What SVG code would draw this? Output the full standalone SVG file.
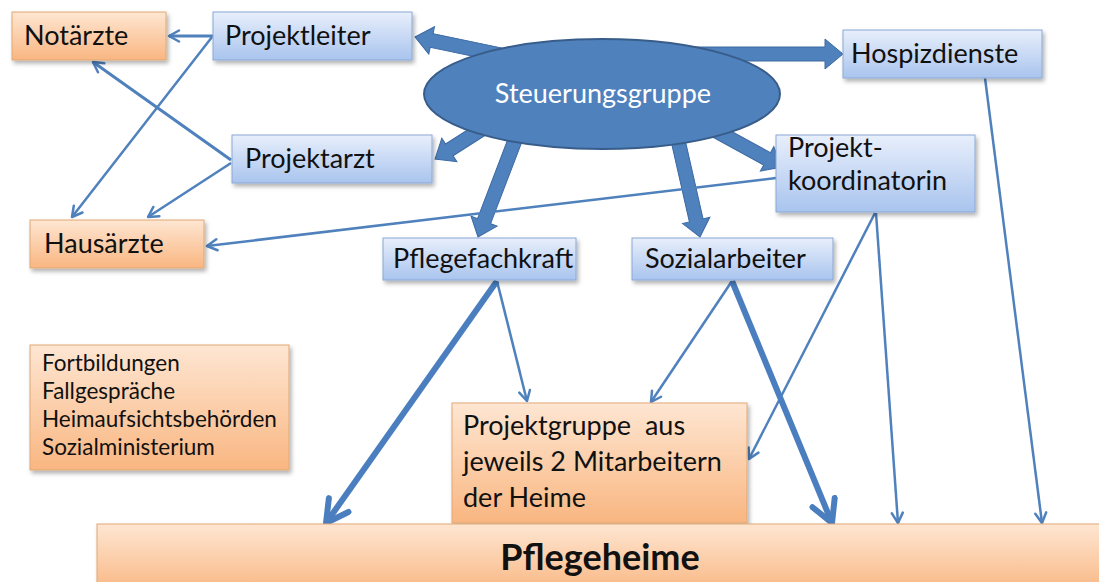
<svg xmlns="http://www.w3.org/2000/svg" width="1099" height="582" viewBox="0 0 1099 582">
  <style>
    .lbl { font-family: Lato, "Liberation Sans", sans-serif; font-size: 27px; fill: #111111; }
    .small { font-family: Lato, "Liberation Sans", sans-serif; font-size: 22.5px; fill: #111111; }
    .big { font-family: Lato, "Liberation Sans", sans-serif; font-size: 36px; font-weight: bold; fill: #111111; }
    .white { fill: #ffffff; }
    .blue { fill: url(#gBlue); stroke: #8aa8d6; stroke-width: 1; }
    .orange { fill: url(#gOrange); stroke: #dfa874; stroke-width: 1; }
    .thin { fill: none; stroke: #4f81bd; stroke-width: 2.5; marker-end: url(#ah); }
    .thick { fill: none; stroke: #4a7ebf; stroke-width: 6; marker-end: url(#ahBig); }
    .block { fill: #4f81bd; stroke: #3c6aa3; stroke-width: 1; }
  </style>
  <defs>
    <linearGradient id="gBlue" x1="0" y1="0" x2="0" y2="1">
      <stop offset="0" stop-color="#e8effb"/>
      <stop offset="1" stop-color="#a9c4ee"/>
    </linearGradient>
    <linearGradient id="gOrange" x1="0" y1="0" x2="0" y2="1">
      <stop offset="0" stop-color="#fee6d2"/>
      <stop offset="1" stop-color="#f9b681"/>
    </linearGradient>
    <filter id="sh" x="-10%" y="-10%" width="120%" height="130%">
      <feDropShadow dx="2" dy="3" stdDeviation="2" flood-color="#000000" flood-opacity="0.3"/>
    </filter>
    <marker id="ah" viewBox="0 0 14 14" refX="12" refY="7" markerWidth="14" markerHeight="14" markerUnits="userSpaceOnUse" orient="auto">
      <path d="M2,1.5 L12,7 L2,12.5" fill="none" stroke="#4f81bd" stroke-width="2.5" stroke-linecap="round" stroke-linejoin="round"/>
    </marker>
    <marker id="ahBig" viewBox="0 0 30 30" refX="26" refY="15" markerWidth="30" markerHeight="30" markerUnits="userSpaceOnUse" orient="auto">
      <path d="M4,3 L26,15 L4,27" fill="none" stroke="#4a7ebf" stroke-width="6" stroke-linecap="round" stroke-linejoin="round"/>
    </marker>
  </defs>

  <rect width="1099" height="582" fill="#ffffff"/>

  <g id="connectors">
    <!-- block arrows from Steuerungsgruppe -->
    <path class="block" transform="translate(415,37) rotate(191.8)" d="M-90,-7 H-17 V-14 L0,0 L-17,14 V7 H-90 Z"/>
    <path class="block" transform="translate(843,54)" d="M-151,-7 H-18 V-15 L0,0 L-18,15 V7 H-151 Z"/>
    <path class="block" transform="translate(435,159) rotate(147.5)" d="M-70,-7 H-17 V-14 L0,0 L-17,14 V7 H-70 Z"/>
    <path class="block" transform="translate(478,237) rotate(110.9)" d="M-110,-7 H-17 V-14 L0,0 L-17,14 V7 H-110 Z"/>
    <path class="block" transform="translate(700,237) rotate(77.2)" d="M-105,-7 H-17 V-14 L0,0 L-17,14 V7 H-105 Z"/>
    <path class="block" transform="translate(782,167) rotate(28.7)" d="M-80,-7 H-17 V-14 L0,0 L-17,14 V7 H-80 Z"/>

    <!-- thin connectors -->
    <line class="thin" x1="213" y1="36" x2="169" y2="36" style="stroke-width:3"/>
    <line class="thin" x1="212" y1="37" x2="72" y2="217"/>
    <line class="thin" x1="231" y1="160" x2="93" y2="62" style="stroke-width:3"/>
    <line class="thin" x1="231" y1="163" x2="148" y2="217"/>
    <line class="thin" x1="776" y1="178" x2="207" y2="246"/>
    <line class="thin" x1="497" y1="281" x2="527" y2="401"/>
    <line class="thin" x1="732" y1="281" x2="651" y2="402"/>
    <line class="thin" x1="875" y1="213" x2="749" y2="459"/>
    <line class="thin" x1="876" y1="213" x2="898" y2="523"/>
    <line class="thin" x1="985" y1="78" x2="1042" y2="523"/>

    <!-- thick connectors to Pflegeheime -->
    <line class="thick" x1="497" y1="281" x2="326" y2="523"/>
    <line class="thick" x1="732" y1="281" x2="832" y2="523"/>
  </g>

  <g id="steuerungsgruppe">
    <ellipse cx="602" cy="94" rx="178" ry="55" fill="#4f81bd" stroke="#385d8a" stroke-width="2"/>
    <text class="lbl white" x="603" y="103" text-anchor="middle">Steuerungsgruppe</text>
  </g>

  <g id="notaerzte">
    <rect class="orange" x="12" y="12" width="154" height="48" filter="url(#sh)"/>
    <text class="lbl" x="24" y="45">Notärzte</text>
  </g>

  <g id="projektleiter">
    <rect class="blue" x="213" y="12" width="199" height="48" filter="url(#sh)"/>
    <text class="lbl" x="225" y="45">Projektleiter</text>
  </g>

  <g id="hospizdienste">
    <rect class="blue" x="843" y="30" width="199" height="48" filter="url(#sh)"/>
    <text class="lbl" x="851" y="63">Hospizdienste</text>
  </g>

  <g id="projektarzt">
    <rect class="blue" x="232" y="135" width="200" height="48" filter="url(#sh)"/>
    <text class="lbl" x="245" y="168">Projektarzt</text>
  </g>

  <g id="projektkoordinatorin">
    <rect class="blue" x="776" y="135" width="199" height="77" filter="url(#sh)"/>
    <text class="lbl" x="788" y="157">Projekt-</text>
    <text class="lbl" x="788" y="190">koordinatorin</text>
  </g>

  <g id="hausaerzte">
    <rect class="orange" x="30" y="220" width="174" height="48" filter="url(#sh)"/>
    <text class="lbl" x="44" y="253">Hausärzte</text>
  </g>

  <g id="pflegefachkraft">
    <rect class="blue" x="383" y="238" width="193" height="42" filter="url(#sh)"/>
    <text class="lbl" x="393" y="268">Pflegefachkraft</text>
  </g>

  <g id="sozialarbeiter">
    <rect class="blue" x="632" y="238" width="201" height="42" filter="url(#sh)"/>
    <text class="lbl" x="645" y="268">Sozialarbeiter</text>
  </g>

  <g id="fortbildungen">
    <rect class="orange" x="30" y="345" width="259" height="125" filter="url(#sh)"/>
    <text class="small" x="42" y="371">Fortbildungen</text>
    <text class="small" x="42" y="399">Fallgespräche</text>
    <text class="small" x="42" y="427">Heimaufsichtsbehörden</text>
    <text class="small" x="42" y="455">Sozialministerium</text>
  </g>

  <g id="projektgruppe">
    <rect class="orange" x="452" y="403" width="295" height="120" filter="url(#sh)"/>
    <text class="lbl" x="463" y="435" style="white-space:pre">Projektgruppe  aus</text>
    <text class="lbl" x="463" y="471">jeweils 2 Mitarbeitern</text>
    <text class="lbl" x="463" y="507">der Heime</text>
  </g>

  <g id="pflegeheime">
    <rect class="orange" x="97" y="524" width="1010" height="70" filter="url(#sh)"/>
    <text class="big" x="600" y="570" text-anchor="middle">Pflegeheime</text>
  </g>
</svg>
